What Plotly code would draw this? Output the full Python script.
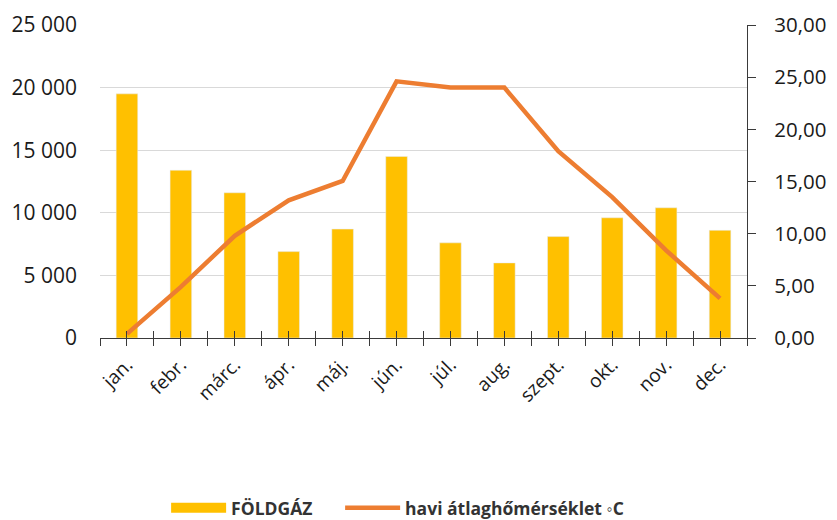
import plotly.graph_objects as go

months = ["jan.", "febr.", "márc.", "ápr.", "máj.", "jún.", "júl.", "aug.", "szept.", "okt.", "nov.", "dec."]
gas = [19500, 13400, 11600, 6900, 8700, 14500, 7600, 6000, 8100, 9600, 10400, 8600]
temp = [0.4, 4.9, 9.8, 13.2, 15.05, 24.6, 24.0, 24.0, 17.9, 13.5, 8.4, 3.8]

left_ticks = [0, 5000, 10000, 15000, 20000, 25000]
right_ticks = [0, 5, 10, 15, 20, 25, 30]

xpos = list(range(len(months)))
bounds = [i - 0.5 for i in range(len(months) + 1)]

FONT = "Open Sans"
TXT = "#1a1a1a"
AX = "#3a3a3a"
GAP = "\u00a0" * 5

fig = go.Figure()
fig.add_trace(go.Bar(x=xpos, y=gas, name="<b>FÖLDGÁZ</b>", marker_color="#FFC000",
                     width=0.4, xaxis="x", yaxis="y", showlegend=False))
# legend proxy for the bar series (wide swatch like the original)
fig.add_trace(go.Scatter(x=[None], y=[None], name="<b>FÖLDGÁZ</b>" + GAP, mode="lines",
                         line=dict(color="#FFC000", width=11), xaxis="x", yaxis="y"))
fig.add_trace(go.Scatter(x=xpos, y=temp, name="<b>havi átlaghőmérséklet ◦C</b>", mode="lines",
                         line=dict(color="#ED7D31", width=4.5), xaxis="x3", yaxis="y2"))

tick_common = dict(tickcolor=AX, tickwidth=1.3)

# the page body has an 8px margin, so the figure is sized to fit the 837x520 window
fig.update_layout(
    width=829, height=512,
    margin=dict(l=92, r=90, t=17, b=182, autoexpand=False),
    paper_bgcolor="white", plot_bgcolor="white",
    separators=", ",
    font=dict(family=FONT, color=TXT),
    xaxis=dict(
        range=[-0.5, 11.5], tickmode="array", tickvals=xpos, ticktext=months,
        tickangle=-45, tickfont=dict(size=19, family=FONT, color=TXT),
        showline=True, linecolor=AX, linewidth=1.3,
        ticks="outside", ticklen=7, **tick_common,
        minor=dict(tickmode="array", tickvals=bounds, ticks="outside", ticklen=7,
                   showgrid=False, **tick_common),
        showgrid=False, zeroline=False, automargin=False,
    ),
    xaxis3=dict(
        overlaying="x", anchor="y2", side="bottom", range=[-0.5, 11.5],
        tickmode="array", tickvals=xpos,
        showticklabels=False, ticks="inside", ticklen=7, **tick_common,
        minor=dict(tickmode="array", tickvals=bounds, ticks="inside", ticklen=7,
                   showgrid=False, **tick_common),
        showgrid=False, zeroline=False, showline=False, automargin=False,
    ),
    yaxis=dict(
        range=[0, 25000], tickmode="array", tickvals=left_ticks, tickformat=",d",
        tickfont=dict(size=21, family=FONT, color=TXT),
        showgrid=True, gridcolor="#D9D9D9", gridwidth=1.3,
        showline=False, ticks="", zeroline=False, ticklabelstandoff=22, automargin=False,
    ),
    yaxis2=dict(
        range=[0, 30], overlaying="y", side="right", anchor="x", tickmode="array",
        tickvals=right_ticks, tickformat=".2f", tickfont=dict(size=20.5, family=FONT, color=TXT),
        showgrid=False, showline=True, linecolor=AX, linewidth=1.3,
        ticks="outside", ticklen=8, **tick_common,
        zeroline=False, ticklabelstandoff=14, automargin=False,
    ),
    legend=dict(orientation="h", x=0.46, xanchor="center", y=-0.543, yanchor="middle",
                font=dict(size=17.5, family=FONT, color="#333333"), itemwidth=55,
                traceorder="normal"),
    showlegend=True,
)

fig.write_html("out.html")
